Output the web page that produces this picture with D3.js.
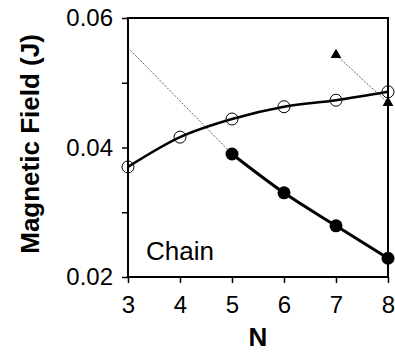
<!DOCTYPE html>
<html>
<head>
<meta charset="utf-8">
<script src="https://cdn.jsdelivr.net/npm/d3@7"></script>
<style>
  body { margin: 0; background: #fff; }
  text { font-family: "Liberation Sans", Arial, sans-serif; fill: #000; }
</style>
</head>
<body>
<div id="chart"></div>
<script>
// data
var nValues = [3, 4, 5, 6, 7, 8];
var openField = [0.0370, 0.0416, 0.0444, 0.0463, 0.0473, 0.0486];
var filledN = [5, 6, 7, 8];
var filledField = [0.0390, 0.0330, 0.0279, 0.0229];
var triN = [7, 8];
var triField = [0.0543, 0.0469];
var dashN = [3, 5];
var dashField = [0.0554, 0.0390];
var xTicks = [3, 4, 5, 6, 7, 8];
var yTicks = [0.02, 0.03, 0.04, 0.05, 0.06];
var yLabels = [0.02, 0.04, 0.06];

var svgWidth = 395;
var svgHeight = 354;
var margin = { top: 18, right: 7, bottom: 77, left: 128 };
var width = svgWidth - margin.left - margin.right;
var height = svgHeight - margin.top - margin.bottom;

var svg = d3.select("#chart")
  .append("svg")
  .attr("width", svgWidth)
  .attr("height", svgHeight);

var chartGroup = svg.append("g")
  .attr("transform", `translate(${margin.left}, ${margin.top})`);

var x = d3.scaleLinear().domain([3, 8]).range([0, width]);
var y = d3.scaleLinear().domain([0.02, 0.06]).range([height, 0]);

var leftAxis = d3.axisLeft(y)
  .tickValues(yTicks)
  .tickSize(6)
  .tickPadding(9)
  .tickFormat(d => yLabels.some(v => Math.abs(v - d) < 1e-9) ? d3.format(".2f")(d) : "");

var bottomAxis = d3.axisBottom(x)
  .tickValues(xTicks)
  .tickSize(6)
  .tickPadding(13)
  .tickFormat(d3.format("d"));

var gy = chartGroup.append("g").call(leftAxis);
var gx = chartGroup.append("g")
  .attr("transform", `translate(0, ${height})`)
  .call(bottomAxis);

[gx, gy].forEach(function(g) {
  g.select(".domain").remove();
  g.selectAll(".tick line").attr("stroke", "#000").attr("stroke-width", 1.5);
  g.selectAll(".tick text").attr("font-size", "24px").attr("fill", "#000");
});

// frame
chartGroup.append("rect")
  .attr("width", width)
  .attr("height", height)
  .attr("fill", "none")
  .attr("stroke", "#000")
  .attr("stroke-width", 2);

// thin dotted connectors
var dashLine = d3.line().x(d => x(d[0])).y(d => y(d[1]));
chartGroup.append("path")
  .datum(dashN.map((n, i) => [n, dashField[i]]))
  .attr("d", dashLine)
  .attr("fill", "none")
  .attr("stroke", "#333")
  .attr("stroke-width", 0.8)
  .attr("stroke-dasharray", "2,1.5");

chartGroup.append("path")
  .datum(triN.map((n, i) => [n, triField[i]]))
  .attr("d", dashLine)
  .attr("fill", "none")
  .attr("stroke", "#333")
  .attr("stroke-width", 0.8)
  .attr("stroke-dasharray", "2,1.5");

// open circle fit curve
var curve = d3.line()
  .x(d => x(d[0]))
  .y(d => y(d[1]))
  .curve(d3.curveMonotoneX);

chartGroup.append("path")
  .datum(nValues.map((n, i) => [n, openField[i]]))
  .attr("d", curve)
  .attr("fill", "none")
  .attr("stroke", "#000")
  .attr("stroke-width", 2.5);

chartGroup.append("path")
  .datum(filledN.map((n, i) => [n, filledField[i]]))
  .attr("d", curve)
  .attr("fill", "none")
  .attr("stroke", "#000")
  .attr("stroke-width", 3);

chartGroup.append("g")
  .selectAll("circle")
  .data(nValues.map((n, i) => [n, openField[i]]))
  .enter()
  .append("circle")
  .attr("cx", d => x(d[0]))
  .attr("cy", d => y(d[1]))
  .attr("r", 6)
  .attr("fill", "none")
  .attr("stroke", "#000")
  .attr("stroke-width", 1);

chartGroup.append("g")
  .selectAll("circle")
  .data(filledN.map((n, i) => [n, filledField[i]]))
  .enter()
  .append("circle")
  .attr("cx", d => x(d[0]))
  .attr("cy", d => y(d[1]))
  .attr("r", 6.5)
  .attr("fill", "#000");

chartGroup.append("g")
  .selectAll("path")
  .data(triN.map((n, i) => [n, triField[i]]))
  .enter()
  .append("path")
  .attr("d", d3.symbol().type(d3.symbolTriangle).size(50))
  .attr("transform", d => `translate(${x(d[0])}, ${y(d[1])})`)
  .attr("fill", "#000");

chartGroup.append("text")
  .attr("x", 18)
  .attr("y", 242)
  .attr("font-size", "26px")
  .text("Chain");

svg.append("text")
  .attr("transform", `translate(${margin.left + width / 2}, 346)`)
  .attr("text-anchor", "middle")
  .attr("font-size", "26px")
  .attr("font-weight", "bold")
  .text("N");

svg.append("text")
  .attr("transform", `translate(39, 144) rotate(-90)`)
  .attr("text-anchor", "middle")
  .attr("font-size", "26px")
  .attr("font-weight", "bold")
  .text("Magnetic Field (J)");
</script>
</body>
</html>
